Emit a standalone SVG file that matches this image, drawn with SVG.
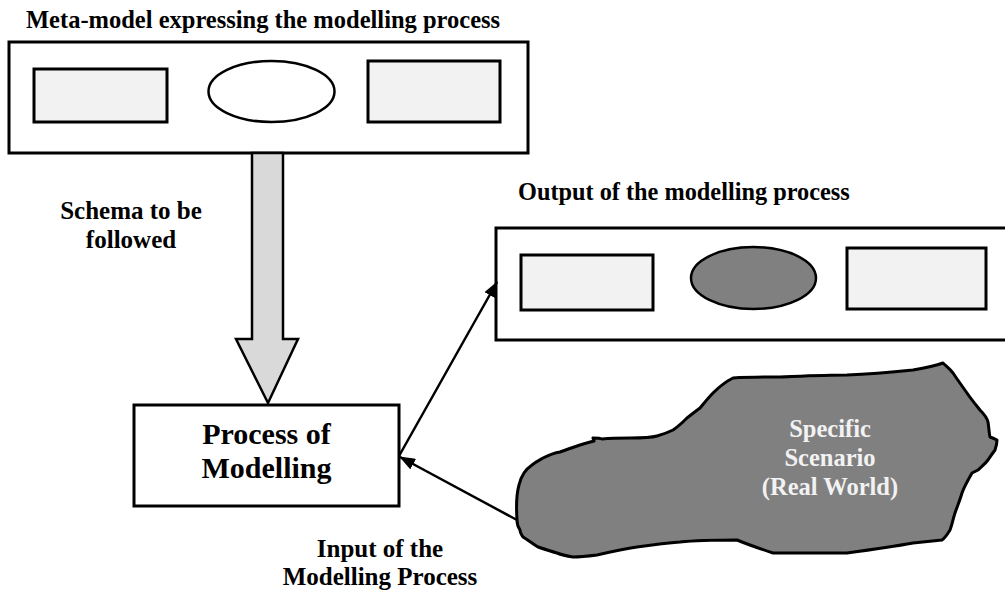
<svg xmlns="http://www.w3.org/2000/svg" width="1005" height="591" viewBox="0 0 1005 591" font-family="'Liberation Serif', 'Times New Roman', Times, 'DejaVu Serif', serif">
  <style>
    text { font-family: 'Liberation Serif', 'Times New Roman', Times, 'DejaVu Serif', serif; font-weight: bold; fill: #000; }
    .lbl { font-size: 25px; }
    .head { font-size: 24.5px; }
    .big { font-size: 30px; }
    .frame { fill: #fff; stroke: #000; stroke-width: 3; }
    .item { fill: #f2f2f2; stroke: #000; stroke-width: 3; }
    .oval { fill: #fff; stroke: #000; stroke-width: 2.5; }
    .oval-dark { fill: #808080; stroke: #000; stroke-width: 2.5; }
    .link { fill: none; stroke: #000; stroke-width: 2.5; }
    .light { fill: #f2f2f2; }
  </style>
  <defs>
    <marker id="head" viewBox="0 0 16 12" refX="15" refY="6" markerWidth="16" markerHeight="12" markerUnits="userSpaceOnUse" orient="auto">
      <path d="M0,0 L16,6 L0,12 Z" fill="#000"/>
    </marker>
  </defs>

  <rect width="1005" height="591" fill="#fff"/>

  <!-- meta-model -->
  <g id="meta-model">
    <text class="head" x="26" y="28">Meta-model expressing the modelling process</text>
    <rect class="frame" x="9" y="42" width="519" height="111"/>
    <rect class="item" x="34" y="69" width="133" height="53"/>
    <ellipse class="oval" cx="271.5" cy="91.5" rx="63" ry="30.5"/>
    <rect class="item" x="368" y="61" width="132" height="61"/>
  </g>

  <!-- modelling output -->
  <g id="output">
    <text class="head" x="518" y="200" style="font-size:24.3px">Output of the modelling process</text>
    <rect class="frame" x="496" y="228" width="520" height="112"/>
    <rect class="item" x="521" y="255" width="132" height="55"/>
    <ellipse class="oval-dark" cx="753.5" cy="278" rx="62.5" ry="31"/>
    <rect class="item" x="847" y="248" width="139" height="61"/>
  </g>

  <!-- process -->
  <g id="process">
    <rect class="frame" x="134" y="405" width="265" height="101" stroke-width="2.5"/>
    <text class="big" x="266.5" y="444" text-anchor="middle">Process of</text>
    <text class="big" x="266.5" y="478" text-anchor="middle">Modelling</text>
  </g>

  <!-- real-world scenario -->
  <g id="scenario">
    <path d="M517,520 C516,505 517,492 519,485 C521,476 526,469 532,465 C537,461 540,460 543,458 C549,455 554,453 560,452 C568,449 574,447 580,445 C586,443 591,442 594,441 L593,438 C597,438 600,438 602,439 C612,438 621,438 630,438 C641,438 650,438 657,436 C664,434 669,432 673,430 C679,426 683,422 687,418 C692,414 696,411 700,408 C705,402 709,397 713,393 C719,387 725,382 733,378 C750,377 765,377 780,377 C805,376 825,375 847,375 C870,374 893,372 913,370 C925,368 935,366 943,363 C946,366 950,369 953,373 C957,379 962,386 967,393 C971,399 976,405 980,410 C984,414 987,418 988,422 C989,428 989,433 990,437 C993,438 995,439 997,440 C997,444 996,447 995,450 C992,454 990,457 988,460 C985,464 981,467 978,470 C976,471 974,472 972,473 C968,480 964,487 962,493 C960,500 957,507 955,513 C953,519 952,525 950,530 C947,535 945,538 942,540 C932,541 923,542 913,543 C891,547 869,550 847,553 C822,553 797,553 773,553 C761,549 749,545 737,540 C718,540 699,540 680,542 C665,543 651,545 637,547 C623,549 610,552 597,555 C589,556 581,557 573,557 C567,556 562,555 557,553 C550,551 544,549 538,547 C533,544 528,540 523,537 C521,534 520,532 520,530 C518,527 517,523 517,520 Z" fill="#808080" stroke="#000" stroke-width="3" stroke-linejoin="round"/>
    <text class="head light" x="830" y="437" text-anchor="middle">Specific</text>
    <text class="head light" x="830" y="466" text-anchor="middle">Scenario</text>
    <text class="head light" x="830" y="495" text-anchor="middle">(Real World)</text>
  </g>

  <!-- connectors -->
  <g id="connectors">
    <path d="M252,153 L283,153 L283,339 L298,339 L268,403 L236,339 L252,339 Z" fill="#d9d9d9" stroke="#000" stroke-width="2.5" stroke-linejoin="miter"/>
    <line class="link" x1="399" y1="456" x2="497" y2="282" marker-end="url(#head)"/>
    <line class="link" x1="517" y1="520" x2="400" y2="457" marker-end="url(#head)"/>
    <text class="lbl" x="131" y="219" text-anchor="middle">Schema to be</text>
    <text class="lbl" x="131" y="248" text-anchor="middle">followed</text>
    <text class="lbl" x="380" y="557" text-anchor="middle">Input of the</text>
    <text class="lbl" x="380" y="585" text-anchor="middle">Modelling Process</text>
  </g>
</svg>
